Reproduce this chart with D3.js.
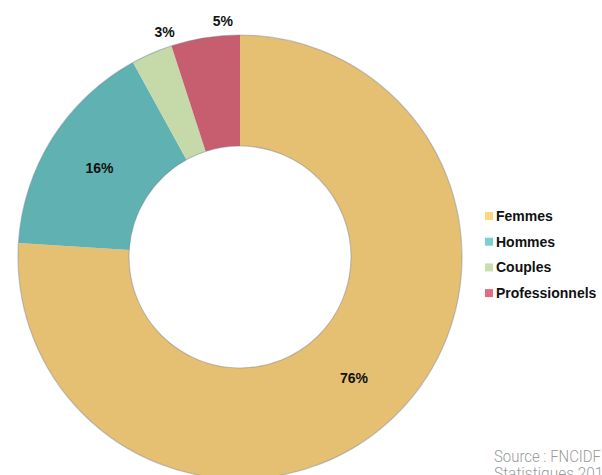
<!DOCTYPE html>
<html>
<head>
<meta charset="utf-8">
<script src="https://cdn.jsdelivr.net/npm/d3@7"></script>
<style>
  body { margin: 0; background: #fff; }
  svg { display: block; }
</style>
</head>
<body>
<svg id="chart"></svg>
<script>
// data
const categories = ["Femmes", "Hommes", "Couples", "Professionnels"];
const values = [76, 16, 3, 5];
const labels = ["76%", "16%", "3%", "5%"];
const ringColors = ["#e5c072", "#60b1b2", "#c5d9a9", "#c65e6f"];
const legendColors = ["#fdd67e", "#7bcfcf", "#c8deac", "#e46c7c"];
const sourceLines = ["Source : FNCIDF", "Statistiques 2013"];

const width = 602, height = 475;
const cx = 240, cy = 257;
const outerR = 222, innerR = 111;

const svg = d3.select("#chart")
  .attr("width", width)
  .attr("height", height)
  .style("font-family", "'Liberation Sans', Arial, sans-serif");

const pie = d3.pie().sort(null).value(d => d);
const arcs = pie(values);

const arc = d3.arc().innerRadius(innerR).outerRadius(outerR);
const midArc = d3.arc().innerRadius((innerR + outerR) / 2).outerRadius((innerR + outerR) / 2);

const g = svg.append("g").attr("transform", "translate(" + cx + "," + cy + ")");

// slices
g.selectAll("path.slice")
  .data(arcs)
  .enter()
  .append("path")
  .attr("class", "slice")
  .attr("d", arc)
  .attr("fill", (d, i) => ringColors[i]);

// soft edge shading round the ring
[outerR, innerR].forEach(r => {
  g.append("circle")
    .attr("r", r)
    .attr("fill", "none")
    .attr("stroke", "rgba(110,125,145,0.4)")
    .attr("stroke-width", 1.2);
});

// labels: big slices inside, small ones outside the ring
g.selectAll("text.lbl")
  .data(arcs)
  .enter()
  .append("text")
  .attr("class", "lbl")
  .attr("text-anchor", "middle")
  .attr("dy", "0.35em")
  .style("font-size", "14px")
  .style("font-weight", "bold")
  .attr("fill", "#111")
  .attr("transform", d => {
    if (d.value >= 10) return "translate(" + midArc.centroid(d) + ")";
    const a = (d.startAngle + d.endAngle) / 2 + 0.085;
    const r = outerR + 15;
    return "translate(" + (Math.sin(a) * r) + "," + (-Math.cos(a) * r) + ")";
  })
  .text((d, i) => labels[i]);

// legend
const legend = svg.append("g").attr("transform", "translate(485,221)");
const items = legend.selectAll("g")
  .data(categories)
  .enter()
  .append("g")
  .attr("transform", (d, i) => "translate(0," + (i * 25.7) + ")");

items.append("rect")
  .attr("x", 0)
  .attr("y", -9)
  .attr("width", 8)
  .attr("height", 8)
  .attr("fill", (d, i) => legendColors[i]);

items.append("text")
  .attr("x", 11)
  .attr("y", 0)
  .style("font-size", "14px")
  .style("font-weight", "bold")
  .attr("fill", "#111")
  .text(d => d);

// source note (second line runs off the bottom, as in the original)
svg.selectAll("text.src")
  .data(sourceLines)
  .enter()
  .append("text")
  .attr("class", "src")
  .attr("x", 494)
  .attr("y", (d, i) => 462 + i * 17)
  .attr("textLength", (d, i) => i === 0 ? 107 : 118)
  .attr("lengthAdjust", "spacingAndGlyphs")
  .style("font-family", "Roboto, sans-serif")
  .style("font-weight", 300)
  .style("font-size", "16px")
  .attr("fill", "#9a9a9a")
  .text(d => d);
</script>
</body>
</html>
